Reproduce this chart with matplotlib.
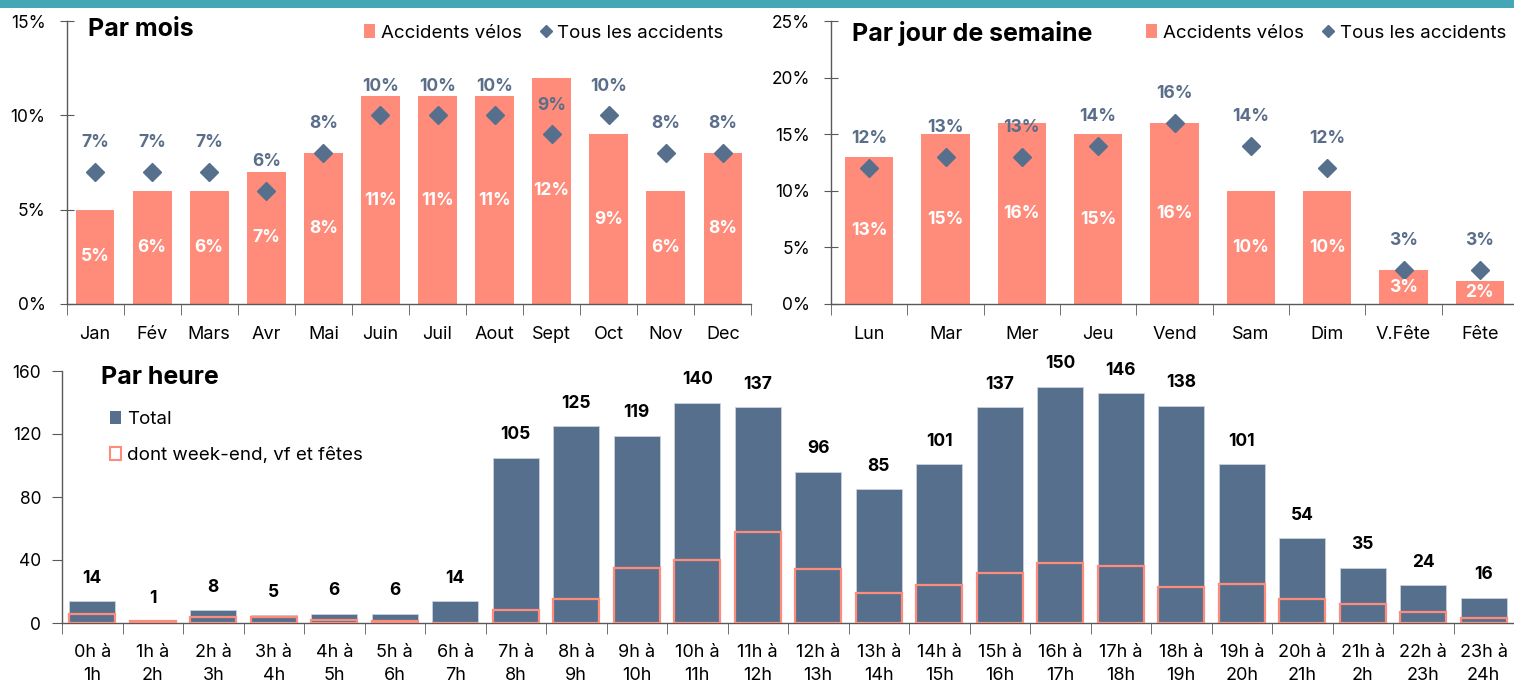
import numpy as np
import matplotlib
matplotlib.use('Agg')
import matplotlib.pyplot as plt
from matplotlib.patches import Patch, Rectangle
from matplotlib.lines import Line2D
from matplotlib.ticker import PercentFormatter, FixedLocator

plt.rcParams['font.family'] = ['Inter', 'DejaVu Sans']

# data
mois = ['Jan', 'Fév', 'Mars', 'Avr', 'Mai', 'Juin', 'Juil', 'Aout', 'Sept', 'Oct', 'Nov', 'Dec']
velo_mois = [5, 6, 6, 7, 8, 11, 11, 11, 12, 9, 6, 8]
tous_mois = [7, 7, 7, 6, 8, 10, 10, 10, 9, 10, 8, 8]

jours = ['Lun', 'Mar', 'Mer', 'Jeu', 'Vend', 'Sam', 'Dim', 'V.Fête', 'Fête']
velo_jour = [13, 15, 16, 15, 16, 10, 10, 3, 2]
tous_jour = [12, 13, 13, 14, 16, 14, 12, 3, 3]

heures = ['0h à\n1h', '1h à\n2h', '2h à\n3h', '3h à\n4h', '4h à\n5h', '5h à\n6h',
          '6h à\n7h', '7h à\n8h', '8h à\n9h', '9h à\n10h', '10h à\n11h', '11h à\n12h',
          '12h à\n13h', '13h à\n14h', '14h à\n15h', '15h à\n16h', '16h à\n17h',
          '17h à\n18h', '18h à\n19h', '19h à\n20h', '20h à\n21h', '21h à\n2h',
          '22h à\n23h', '23h à\n24h']
total = [14, 1, 8, 5, 6, 6, 14, 105, 125, 119, 140, 137, 96, 85, 101, 137, 150, 146,
         138, 101, 54, 35, 24, 16]
weekend = [6, 1, 4, 4, 2, 1, 0, 8, 15, 35, 40, 58, 34, 19, 24, 32, 38, 36, 23, 25,
           15, 12, 7, 3]

SALMON = '#FF8B7B'
SLATE = '#566F8D'
LABEL = '#5A6D89'
AXIS = '#595959'
W, H = 1514, 683

fig = plt.figure(figsize=(W / 100, H / 100), dpi=100)

# teal band at top
fig.patches.append(Rectangle((0, 1 - 8 / H), 1, 8 / H, transform=fig.transFigure,
                             facecolor='#45A6B6', edgecolor='none'))


def style_axes(ax, n, ypad, ylen, ydir, xpad=16):
    for s in ['top', 'right']:
        ax.spines[s].set_visible(False)
    for s in ['left', 'bottom']:
        ax.spines[s].set_color(AXIS)
        ax.spines[s].set_linewidth(1.0)
    ax.set_xlim(-0.5, n - 0.5)
    ax.xaxis.set_minor_locator(FixedLocator(np.arange(n + 1) - 0.5))
    ax.tick_params(axis='x', which='major', length=0, pad=xpad, labelsize=13, colors='black')
    ax.tick_params(axis='x', which='minor', length=8, direction='out', color=AXIS)
    ax.tick_params(axis='y', length=ylen, direction=ydir, color=AXIS, pad=ypad,
                   labelsize=12.5)


def pct_chart(rect, cats, velo, tous, ymax, leg_x):
    ax = fig.add_axes(rect)
    x = np.arange(len(cats))
    bars = ax.bar(x, velo, width=0.68 if len(cats) > 9 else 0.63, color=SALMON, zorder=2)
    ax.plot(x, tous, linestyle='none', marker='D', markersize=9, color=SLATE, zorder=3)
    ax.bar_label(bars, labels=[f'{v}%' for v in velo], label_type='center',
                 color='white', fontweight='bold', fontsize=12.5)
    for xi, v in zip(x, tous):
        ax.annotate(f'{v}%', (xi, v), xytext=(0, 21), textcoords='offset points',
                    ha='center', va='center', color=LABEL, fontweight='bold',
                    fontsize=12.5, zorder=4)
    ax.set_ylim(0, ymax)
    ax.set_yticks(np.arange(0, ymax + 1, 5))
    ax.yaxis.set_major_formatter(PercentFormatter(decimals=0))
    ax.set_xticks(x)
    ax.set_xticklabels(cats)
    style_axes(ax, len(cats), 10, 10, 'inout')
    handles = [Patch(facecolor=SALMON), Line2D([], [], linestyle='none', marker='D',
                                              markersize=6, color=SLATE)]
    ax.legend(handles, ['Accidents vélos', 'Tous les accidents'], ncol=2, frameon=False,
              loc='center', bbox_to_anchor=(leg_x, 1 - 33 / H),
              bbox_transform=fig.transFigure, fontsize=13.5, handlelength=0.6,
              handleheight=0.7, handletextpad=0.3, columnspacing=1.0)
    return ax


ax1 = pct_chart([66.5 / W, 1 - 304 / H, 685 / W, 283 / H], mois, velo_mois, tous_mois,
                15, 543.5 / W)
fig.text(88 / W, 1 - 30 / H, 'Par mois', fontsize=18, fontweight='bold', va='center')

ax2 = pct_chart([831 / W, 1 - 304 / H, 687 / W, 283 / H], jours, velo_jour, tous_jour,
                25, 1326 / W)
fig.text(852 / W, 1 - 33 / H, 'Par jour de semaine', fontsize=18, fontweight='bold',
         va='center')

# par heure
ax3 = fig.add_axes([62 / W, 1 - 623 / H, 1452 / W, 252 / H])
x = np.arange(len(heures))
ax3.bar(x, total, width=0.76, color=SLATE, edgecolor='#C9D1DC', linewidth=0.6, zorder=2)
ax3.bar(x, weekend, width=0.76, facecolor='none', edgecolor=SALMON, linewidth=1.6, zorder=3)
for xi, v in zip(x, total):
    ax3.annotate(str(v), (xi, v), xytext=(0, 16.5), textcoords='offset points',
                 ha='center', va='center', fontweight='bold', fontsize=12.5, color='black')
ax3.set_ylim(0, 160)
ax3.set_yticks(np.arange(0, 161, 40))
ax3.set_xticks(x)
ax3.set_xticklabels(heures, linespacing=1.45)
style_axes(ax3, len(heures), 8, 7, 'out', xpad=15)
ax3.legend([Patch(facecolor=SLATE), Patch(facecolor='white', edgecolor=SALMON, linewidth=1.5)],
           ['Total', 'dont week-end, vf et fêtes'], frameon=False, loc='upper left',
           bbox_to_anchor=(93 / W, 1 - 394 / H), bbox_transform=fig.transFigure,
           fontsize=13.5, handlelength=0.6, handleheight=0.7, handletextpad=0.3,
           labelspacing=1.0)
fig.text(101 / W, 1 - 378 / H, 'Par heure', fontsize=18, fontweight='bold', va='center')

fig.savefig('out.png', dpi=100)
